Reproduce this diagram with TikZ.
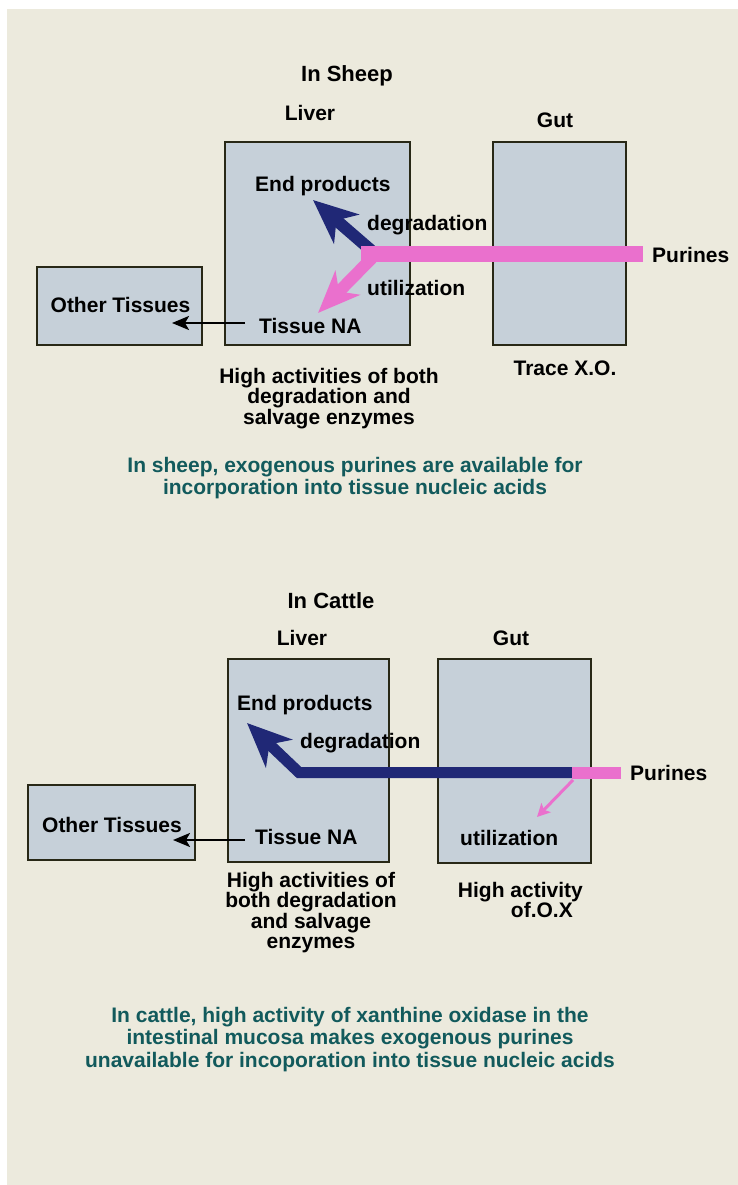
\documentclass[tikz,border=0pt]{standalone}
\usepackage{fontspec}
\setmainfont{Liberation Sans}
\usetikzlibrary{arrows.meta}
\definecolor{cream}{RGB}{236,234,221}
\definecolor{boxfill}{RGB}{198,208,217}
\definecolor{boxline}{RGB}{40,40,22}
\definecolor{navyc}{RGB}{32,40,118}
\definecolor{pinkc}{RGB}{234,112,205}
\definecolor{tealc}{RGB}{18,90,92}
\tikzset{
  organ/.style={draw=boxline, line width=1.5pt, fill=boxfill, inner sep=0pt},
  lbl/.style={inner sep=0pt, text=black, font=\bfseries\fontsize{21}{20.5}\selectfont},
  ttl/.style={inner sep=0pt, text=black, font=\bfseries\fontsize{22}{22}\selectfont},
  concl/.style={inner sep=0pt, text=tealc, align=center, font=\bfseries\fontsize{21}{22.8}\selectfont},
  navyarrow/.style={draw=navyc, line width=12pt, line join=miter,
    -{Stealth[length=44pt,width=38pt,inset=13pt]}},
  pinkbar/.style={draw=pinkc, line width=16pt},
  pinkarrow/.style={draw=pinkc, line width=12pt,
    -{Stealth[length=42pt,width=34pt,inset=12pt]}},
  thinpink/.style={draw=pinkc, line width=3pt,
    -{Stealth[length=13pt,width=13pt,inset=3pt]}},
  thinarrow/.style={draw=black, line width=2.4pt,
    -{Stealth[length=17pt,width=14pt,inset=4pt]}}
}
\begin{document}
\begin{tikzpicture}[x=1pt,y=-1pt]
\useasboundingbox (0,0) rectangle (738,1185);
\fill[white] (0,0) rectangle (738,1185);
\fill[cream] (7,9) rectangle (738,1185);

% ================= SHEEP =================
\node[organ, minimum width=185pt, minimum height=203pt] (liverS) at (317.5,243.5) {};
\node[organ, minimum width=133pt, minimum height=203pt] (gutS) at (559.5,243.5) {};
\node[organ, minimum width=165pt, minimum height=78pt] (othBoxS) at (119.5,306) {};

\node[ttl, anchor=base] (titleS) at (347,82) {In Sheep};
\node[lbl, anchor=base] (liverLS) at (310,121) {Liver};
\node[lbl, anchor=base] (gutLS) at (555,128) {Gut};

\node[lbl, anchor=base west] (endS) at (255,192) {End products};
\node[lbl, anchor=base west] (degS) at (367,230) {degradation};
\node[lbl, anchor=base west] (utilS) at (367,295) {utilization};
\node[lbl, anchor=base west] (tnaS) at (259,333) {Tissue NA};
\node[lbl, anchor=base] (othS) at (120.5,312) {Other Tissues};
\node[lbl, anchor=base west] (purS) at (652,262) {Purines};
\node[lbl, anchor=base] (traceS) at (565,375) {Trace X.O.};
\node[lbl, anchor=north, align=center] (noteS) at (329,367.7)
  {High activities of both\\degradation and\\salvage enzymes};
\node[concl, anchor=north] (concS) at (355,456.7)
  {In sheep, exogenous purines are available for\\incorporation into tissue nucleic acids};

\coordinate (jS) at (373,252);
\coordinate (endtipS) at (313,200);
\coordinate (jpS) at (372,258);
\coordinate (utiltipS) at (318,313);
\coordinate (otS) at (172,323);
\coordinate (tnaStartS) at (245,323);

\draw[navyarrow] (jS) -- (endtipS);
\draw[pinkarrow] (jpS) -- (utiltipS);
\draw[pinkbar] ([xshift=-9pt]purS.west) -- (361,0 |- purS.west);
\draw[thinarrow] (tnaStartS) -- (otS);

% ================= CATTLE =================
\node[organ, minimum width=161pt, minimum height=203pt] (liverC) at (308.5,760.5) {};
\node[organ, minimum width=153pt, minimum height=204pt] (gutC) at (514.5,761) {};
\node[organ, minimum width=167pt, minimum height=75pt] (othBoxC) at (111.5,822.5) {};

\node[ttl, anchor=base] (titleC) at (331,608) {In Cattle};
\node[lbl, anchor=base] (liverLC) at (302,645) {Liver};
\node[lbl, anchor=base] (gutLC) at (511,645) {Gut};

\node[lbl, anchor=base west] (endC) at (237,710) {End products};
\node[lbl, anchor=base west] (degC) at (300,748) {degradation};
\node[lbl, anchor=base west] (tnaC) at (255,844) {Tissue NA};
\node[lbl, anchor=base west] (utilC) at (460,845) {utilization};
\node[lbl, anchor=base] (othC) at (112,832) {Other Tissues};
\node[lbl, anchor=base west] (purC) at (630,780) {Purines};
\node[lbl, anchor=north, align=center] (noteC) at (311,871.7)
  {High activities of\\both degradation\\and salvage\\enzymes};
\node[lbl, anchor=north east, align=right] (oxC) at (583,881.7)
  {High activity\\of.O.X\hspace*{10pt}};
\node[concl, anchor=north] (concC) at (350,1006.7)
  {In cattle, high activity of xanthine oxidase in the\\intestinal mucosa makes exogenous purines\\unavailable for incoporation into tissue nucleic acids};

\coordinate (pinkC) at (572,0 |- purC.west);
\coordinate (cornerC) at (299,0 |- purC.west);
\coordinate (endtipC) at (247,723);
\coordinate (pstartC) at (573,780);
\coordinate (ptipC) at (537,817);
\coordinate (otC) at (173,840);
\coordinate (tnaStartC) at (245,840);

\draw[navyarrow, line width=11pt] (pinkC) -- (cornerC) -- (endtipC);
\draw[pinkbar, line width=12pt] ([xshift=-9pt]purC.west) -- (pinkC);
\draw[thinpink] (pstartC) -- (ptipC);
\draw[thinarrow] (tnaStartC) -- (otC);
\end{tikzpicture}
\end{document}
